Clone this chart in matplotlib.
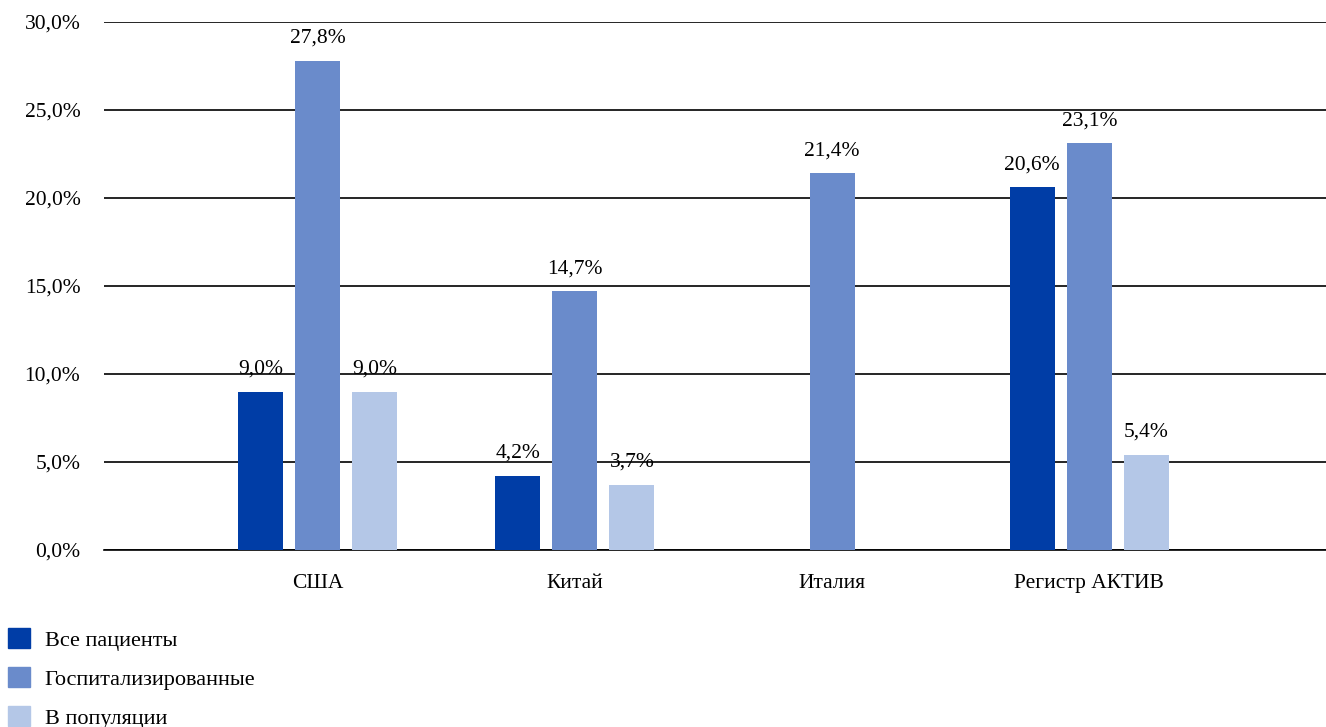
import matplotlib
matplotlib.use('Agg')
import matplotlib.pyplot as plt
import matplotlib.patches as mpatches
import numpy as np

# DATA
categories = ['США', 'Китай', 'Италия', 'Регистр АКТИВ']
series_names = ['Все пациенты', 'Госпитализированные', 'В популяции']
all_patients = [9.0, 4.2, None, 20.6]
hospitalized = [27.8, 14.7, 21.4, 23.1]
population = [9.0, 3.7, None, 5.4]
y_ticks = [0, 5, 10, 15, 20, 25, 30]

COLORS = ['#003DA6', '#6A8BCB', '#B4C7E7']

plt.rcParams['font.family'] = ['Liberation Serif', 'DejaVu Serif']
FS = 15.5

fig = plt.figure(figsize=(13.26, 7.27), dpi=100)
ax = fig.add_axes([104 / 1326, 1 - 550 / 727, 1 - 104 / 1326, (550 - 22) / 727])

x = np.arange(len(categories))
bar_w = 0.175
step = 0.222

for i, (vals, color) in enumerate(zip([all_patients, hospitalized, population], COLORS)):
    for xi, v in zip(x, vals):
        if v is None:
            continue
        pos = xi + (i - 1) * step
        ax.bar(pos, v, bar_w, color=color, zorder=3)
        ax.annotate(f'{v:.1f}%'.replace('.', ','), (pos, v), xytext=(0, 9.5),
                    textcoords='offset points', ha='center', va='bottom',
                    fontsize=FS, zorder=4)

ax.set_ylim(0, 30)
ax.set_xlim(-0.83, 3.92)
ax.set_yticks(y_ticks)
ax.set_yticklabels([f'{t:.1f}%'.replace('.', ',') for t in y_ticks], fontsize=FS)
ax.set_xticks(x)
ax.set_xticklabels(categories, fontsize=FS)
ax.tick_params(axis='both', length=0)
ax.tick_params(axis='y', pad=17)
ax.tick_params(axis='x', pad=17)
ax.yaxis.grid(True, color='black', linewidth=1.2, zorder=0)
for s in ['top', 'right', 'left']:
    ax.spines[s].set_visible(False)
ax.spines['bottom'].set_linewidth(1.2)

handles = [mpatches.Patch(color=c, label=n) for c, n in zip(COLORS, series_names)]
fig.legend(handles=handles, loc='upper left', bbox_to_anchor=(8 / 1326, 1 - 628 / 727),
           frameon=False, fontsize=16, handlelength=1.0, handleheight=1.0,
           handletextpad=0.65, labelspacing=0.75, borderaxespad=0, borderpad=0)

fig.savefig('out.png', dpi=100)
